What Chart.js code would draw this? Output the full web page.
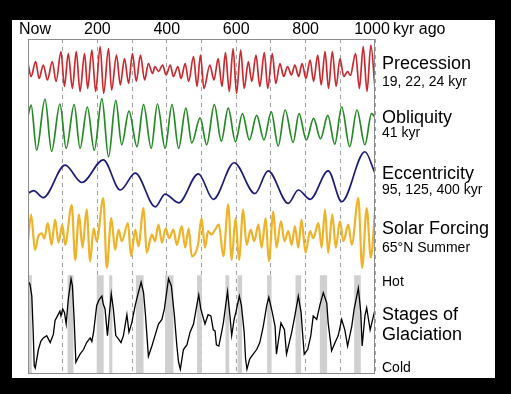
<!DOCTYPE html>
<html>
<head>
<meta charset="utf-8">
<script src="https://cdn.jsdelivr.net/npm/chart.js@4.4.0/dist/chart.umd.min.js"></script>
<style>
  html, body { margin: 0; padding: 0; background: #000; }
  canvas { display: block; }
</style>
</head>
<body>
<canvas id="cycles" width="511" height="394"></canvas>
<script>
// kyr ago on the top axis
const axisTicks = [0, 200, 400, 600, 800, 1000];

// Precession, relative index (0-100)
const precKyr = [0, 9, 22, 32, 44, 56, 70, 81, 95, 105, 116, 128, 139, 150, 163, 172, 184, 195, 208, 218, 232, 241, 255, 266, 278, 290, 301, 312, 324, 336, 347, 359, 366, 376, 388, 398, 410, 419, 432, 441, 453, 463, 477, 487, 497, 507, 524, 536, 548, 559, 569, 580, 591, 601, 613, 623, 635, 645, 657, 668, 681, 691, 704, 714, 726, 737, 748, 759, 769, 780, 790, 801, 813, 823, 835, 845, 856, 866, 877, 888, 899, 910, 921, 929, 944, 955, 966, 977, 988, 1000];
const precVal = [63, 37, 67, 33, 60, 30, 67, 27, 87, 17, 83, 13, 87, 7, 83, 13, 90, 7, 97, 3, 93, 10, 80, 20, 73, 23, 83, 27, 80, 30, 63, 43, 57, 47, 60, 40, 60, 37, 57, 33, 63, 27, 77, 17, 80, 13, 60, 30, 73, 17, 85, 7, 93, 3, 90, 13, 67, 27, 80, 17, 85, 13, 83, 23, 63, 37, 57, 40, 60, 37, 63, 33, 70, 27, 80, 20, 87, 13, 87, 17, 73, 37, 47, 39, 83, 13, 97, 7, 100, 13];

// Obliquity, relative (0-100)
const oblKyr = [0, 9, 25, 49, 68, 92, 110, 133, 150, 171, 191, 213, 232, 253, 270, 291, 314, 333, 355, 373, 395, 415, 434, 455, 472, 496, 515, 537, 557, 577, 598, 618, 638, 659, 680, 701, 721, 741, 764, 781, 802, 823, 843, 864, 884, 904, 927, 948, 971, 990, 1000];
const oblVal = [71, 88, 13, 98, 11, 90, 16, 89, 16, 85, 13, 99, 2, 96, 22, 78, 19, 89, 16, 90, 16, 89, 16, 83, 25, 67, 22, 89, 28, 83, 27, 74, 30, 71, 30, 77, 20, 80, 26, 74, 30, 66, 32, 71, 23, 85, 19, 80, 22, 74, 68];

// Eccentricity, relative (0-100)
const eccKyr = [0, 16, 44, 107, 155, 217, 266, 309, 367, 395, 434, 491, 534, 594, 654, 692, 750, 779, 813, 865, 904, 971, 1000];
const eccVal = [25, 30, 18, 74, 44, 83, 31, 60, 2, 24, 9, 59, 15, 78, 25, 64, 8, 31, 15, 64, 11, 97, 60];

// Solar forcing, 65N summer, relative (0-100)
const solKyr = [0, 9, 20, 30, 40, 47, 57, 68, 78, 88, 99, 107, 126, 136, 147, 157, 169, 179, 189, 198, 217, 227, 240, 251, 261, 270, 288, 297, 309, 318, 333, 342, 357, 366, 376, 386, 397, 407, 419, 429, 443, 453, 463, 472, 490, 500, 510, 519, 529, 539, 550, 563, 577, 587, 598, 608, 620, 630, 642, 652, 664, 673, 685, 694, 707, 716, 729, 739, 750, 760, 769, 779, 788, 800, 813, 822, 837, 846, 856, 865, 877, 887, 899, 909, 923, 933, 952, 963, 976, 988, 1000];
const solVal = [40, 77, 28, 47, 51, 44, 65, 35, 70, 38, 63, 35, 90, 14, 77, 31, 84, 12, 58, 40, 100, 3, 72, 28, 56, 40, 65, 19, 56, 33, 86, 24, 49, 40, 63, 38, 58, 44, 56, 35, 61, 31, 58, 19, 35, 72, 31, 54, 49, 56, 63, 19, 91, 14, 72, 14, 84, 35, 56, 40, 63, 31, 72, 12, 81, 31, 68, 40, 54, 35, 61, 31, 70, 24, 54, 44, 65, 31, 84, 24, 77, 31, 68, 40, 63, 35, 100, 3, 86, 17, 81];

// Stages of glaciation, cold (0) to hot (100)
const glacKyr = [0, 6, 11, 15, 18, 21, 30, 37, 44, 54, 64, 73, 78, 85, 92, 95, 100, 105, 110, 116, 124, 128, 133, 138, 143, 150, 160, 169, 179, 184, 189, 198, 205, 213, 217, 222, 229, 234, 240, 246, 253, 261, 268, 275, 285, 291, 299, 309, 318, 326, 333, 338, 342, 347, 357, 366, 376, 386, 393, 405, 413, 422, 429, 434, 439, 448, 458, 467, 477, 487, 492, 498, 510, 519, 527, 534, 539, 543, 550, 558, 563, 575, 582, 587, 594, 599, 609, 615, 623, 627, 631, 639, 649, 659, 668, 678, 688, 694, 704, 712, 716, 729, 739, 745, 760, 769, 779, 787, 791, 796, 806, 815, 822, 832, 841, 851, 861, 865, 875, 885, 894, 904, 913, 921, 933, 940, 952, 959, 963, 971, 976, 986, 998, 1000];
const glacVal = [87, 84, 74, 43, 14, 12, 28, 35, 38, 40, 34, 41, 53, 57, 61, 57, 63, 60, 50, 71, 89, 83, 54, 17, 20, 24, 28, 34, 38, 35, 43, 66, 71, 74, 67, 63, 40, 57, 76, 63, 40, 37, 34, 40, 58, 43, 51, 66, 77, 86, 77, 60, 43, 22, 31, 40, 50, 54, 63, 89, 83, 57, 31, 17, 11, 28, 32, 43, 50, 67, 75, 63, 50, 58, 57, 45, 44, 32, 31, 43, 51, 78, 57, 40, 54, 60, 74, 66, 43, 20, 11, 20, 24, 28, 34, 48, 66, 73, 60, 48, 24, 51, 45, 24, 43, 57, 74, 60, 43, 24, 28, 40, 57, 54, 66, 77, 68, 51, 27, 34, 40, 54, 45, 31, 48, 63, 81, 60, 31, 57, 64, 45, 60, 58];

// interglacial periods (grey bands), kyr ago
const warmStart = [0, 114, 198, 234, 311, 395, 487, 569, 604, 689, 771, 841, 940];
const warmEnd = [11, 131, 218, 243, 333, 419, 501, 580, 617, 702, 787, 862, 959];

// ---- layout ----
const AREA = { left: 28, right: 375, top: 39, bottom: 374 };
// pixel rows of value 100 and value 0 for each strip
const BANDS = {
  yP: [45, 95],
  yO: [98, 158],
  yE: [150, 208],
  yS: [198, 270],
  yG: [266, 382]
};
const FONT = "'Liberation Sans', Arial, sans-serif";

function bandScale(id) {
  const [top, bottom] = BANDS[id];
  const k = (bottom - top) / 100;
  return {
    display: false,
    min: -(AREA.bottom - bottom) / k,
    max: 100 + (top - AREA.top) / k
  };
}

function points(xs, ys) {
  return xs.map((x, i) => ({ x: x, y: ys[i] }));
}

const sideLabels = [
  { text: "Precession", y: 64, size: 18 },
  { text: "19, 22, 24 kyr", y: 82.5, size: 14 },
  { text: "Obliquity", y: 118.5, size: 18 },
  { text: "41 kyr", y: 133.5, size: 14 },
  { text: "Eccentricity", y: 174, size: 18 },
  { text: "95, 125, 400 kyr", y: 190.5, size: 14 },
  { text: "Solar Forcing", y: 229, size: 18 },
  { text: "65\u00B0N Summer", y: 248, size: 14 },
  { text: "Hot", y: 282.5, size: 14 },
  { text: "Stages of", y: 315.5, size: 18 },
  { text: "Glaciation", y: 335.5, size: 18 },
  { text: "Cold", y: 368.5, size: 14 }
];

const decorations = {
  id: "decorations",
  beforeDraw(chart) {
    const ctx = chart.ctx;
    ctx.save();
    ctx.fillStyle = "#000";
    ctx.fillRect(0, 0, chart.width, chart.height);
    ctx.fillStyle = "#fff";
    ctx.fillRect(12, 20, 483, 358);
    ctx.restore();
  },
  beforeDatasetsDraw(chart) {
    const { ctx, chartArea, scales } = chart;
    const top = scales.yG.getPixelForValue(92);
    ctx.save();
    ctx.fillStyle = "#d0d0d0";
    warmStart.forEach((s, i) => {
      const x0 = scales.x.getPixelForValue(s);
      const x1 = scales.x.getPixelForValue(warmEnd[i]);
      ctx.fillRect(x0, top, x1 - x0, chartArea.bottom - top);
    });
    ctx.restore();
  },
  afterDraw(chart) {
    const { ctx, chartArea, scales } = chart;
    ctx.save();
    // frame
    ctx.strokeStyle = "#8c8c8c";
    ctx.lineWidth = 1;
    ctx.strokeRect(chartArea.left + 0.5, chartArea.top + 0.5,
      chartArea.right - chartArea.left - 1, chartArea.bottom - chartArea.top - 1);

    // top axis labels
    ctx.fillStyle = "#000";
    ctx.font = "16px " + FONT;
    ctx.textBaseline = "middle";
    ctx.textAlign = "center";
    axisTicks.forEach((t, i) => {
      let x = scales.x.getPixelForValue(t);
      let label = String(t);
      if (t === 0) { label = "Now"; x += 7; }
      if (i === axisTicks.length - 1) x -= 3;
      ctx.fillText(label, x, 30);
    });
    ctx.textAlign = "left";
    ctx.fillText("kyr ago", 393, 30);

    // strip labels
    sideLabels.forEach(l => {
      ctx.font = l.size + "px " + FONT;
      ctx.fillText(l.text, 382, l.y);
    });
    ctx.restore();
  }
};

const smooth = { pointRadius: 0, borderWidth: 1.7, cubicInterpolationMode: "monotone", fill: false };

new Chart(document.getElementById("cycles").getContext("2d"), {
  type: "line",
  data: {
    datasets: [
      Object.assign({ label: "Precession", data: points(precKyr, precVal), borderColor: "#c92a2f", yAxisID: "yP" }, smooth),
      Object.assign({ label: "Obliquity", data: points(oblKyr, oblVal), borderColor: "#248a24", yAxisID: "yO" }, smooth),
      Object.assign({ label: "Eccentricity", data: points(eccKyr, eccVal), borderColor: "#1c1c78", yAxisID: "yE" }, smooth),
      Object.assign({ label: "Solar Forcing", data: points(solKyr, solVal), borderColor: "#efb32a", yAxisID: "yS" }, smooth, { borderWidth: 2.2 }),
      {
        label: "Stages of Glaciation",
        data: points(glacKyr, glacVal),
        borderColor: "#000",
        borderWidth: 1.3,
        pointRadius: 0,
        tension: 0,
        yAxisID: "yG"
      }
    ]
  },
  options: {
    responsive: false,
    animation: false,
    events: [],
    layout: {
      padding: { left: AREA.left, right: 511 - AREA.right, top: AREA.top, bottom: 394 - AREA.bottom }
    },
    plugins: {
      legend: { display: false },
      tooltip: { enabled: false }
    },
    scales: {
      x: {
        type: "linear",
        position: "top",
        min: 0,
        max: 1000,
        ticks: { display: false, stepSize: 100 },
        grid: { color: "#a0a0a0", lineWidth: 1, drawTicks: false },
        border: { display: false, dash: [4, 4] },
        afterFit(scale) { scale.height = 0; }
      },
      yP: bandScale("yP"),
      yO: bandScale("yO"),
      yE: bandScale("yE"),
      yS: bandScale("yS"),
      yG: bandScale("yG")
    }
  },
  plugins: [decorations]
});
</script>
</body>
</html>
